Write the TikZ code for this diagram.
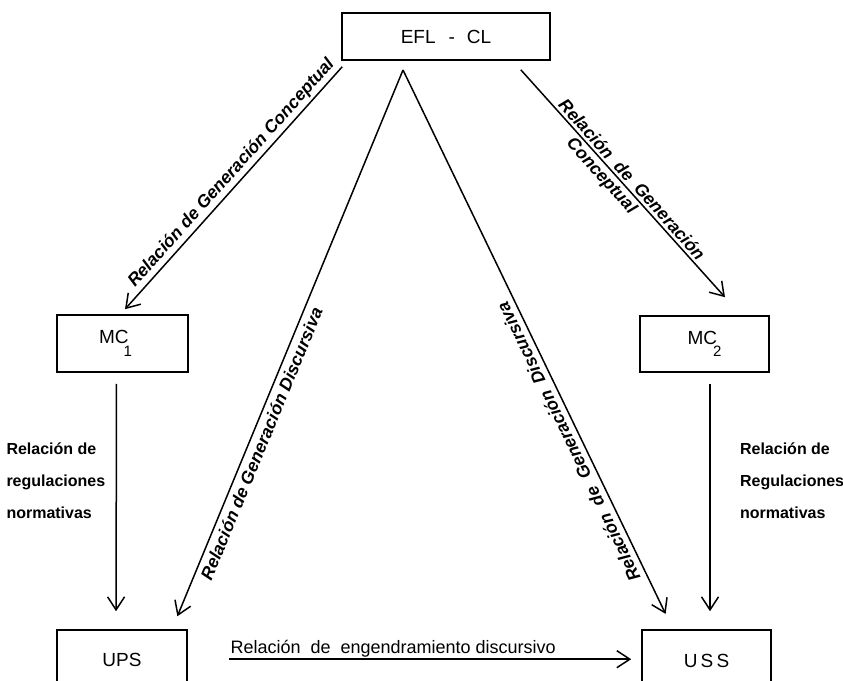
\documentclass[tikz,border=0pt]{standalone}
\usepackage{fontspec}
\setmainfont{Liberation Sans}
\usetikzlibrary{arrows.meta}
\tikzset{
  box/.style={draw, line width=1.6pt, inner sep=0pt, font=\fontsize{19}{22}\selectfont},
  rel/.style={line width=1.5pt, -{Straight Barb[length=13pt,width=17pt,line width=1.5pt]}},
  diag/.style={font=\fontsize{17.5}{20}\selectfont\bfseries\itshape, inner sep=2.5pt},
  side/.style={font=\fontsize{16}{32}\selectfont\bfseries, align=left},
}

\begin{document}
\begin{tikzpicture}[x=1pt, y=-1pt]
            \useasboundingbox (0,0) rectangle (843,680);

            \node[box, minimum width=208pt, minimum height=47pt] (efl) at (446,36.5) {EFL\hspace{13pt}-\hspace{12pt}CL};
            \node[box, minimum width=131pt, minimum height=57pt] (mc1) at (122.5,343.5) {\hspace{-14pt}MC\kern-5pt\raisebox{-13pt}{\fontsize{15}{15}\selectfont 1}};
            \node[box, minimum width=129pt, minimum height=56pt] (mc2) at (704.5,344) {MC\kern-4pt\raisebox{-12pt}{\fontsize{15}{15}\selectfont 2}};
            \node[box, minimum width=130pt, minimum height=110pt] (ups) at (122,685) {\raisebox{50pt}{UPS}};
            \node[box, minimum width=129pt, minimum height=110pt] (uss) at (706.5,685) {\raisebox{48pt}{U\,S\,S}};

            \coordinate (apex) at (403,70);

            \draw[rel] ([shift={(1,6)}]efl.south west) -- node[diag, sloped, above, pos=0.47] {Relación de Generación Conceptual} ([shift={(2.5,-5)}]mc1.north);
            \draw[rel] ([shift={(-30,9)}]efl.south east) -- node[diag, sloped, above, pos=0.51] {Relación\ \ de\ \ Generación} node[diag, sloped, below, pos=0.435] {Conceptual} ([shift={(20.5,-18)}]mc2.north);

            \draw[rel, shorten >=14pt] (apex) -- node[diag, sloped, below=2pt, pos=0.66] {Relación\ de\ Generación\ Discursiva} ([xshift=50]ups.north);
            \draw[rel, shorten >=17pt] (apex) -- node[diag, sloped, rotate=180, above=3pt, pos=0.655] {Relación\ \ de\ \ Generación\ \ Discursiva} ([xshift=-33.5]uss.north);

            \draw[rel, shorten <=11pt, shorten >=18pt] ([xshift=-6]mc1.south) -- node[side, left=7pt, pos=0.42] {Relación de\\regulaciones\\normativas} ([xshift=-6]ups.north);
            \draw[rel, shorten <=11pt, shorten >=18pt] ([xshift=5.5]mc2.south) -- node[side, right=26pt, pos=0.42] {Relación de\\Regulaciones\\normativas} ([xshift=3.5]uss.north);

            \draw[rel] ([shift={(41,30)}]ups.north east) -- node[pos=0, anchor=south west, inner sep=1pt, font=\fontsize{18}{20}\selectfont] {Relación\ \ de\ \ engendramiento discursivo} ([shift={(-10,30)}]uss.north west);
\end{tikzpicture}
\end{document}
